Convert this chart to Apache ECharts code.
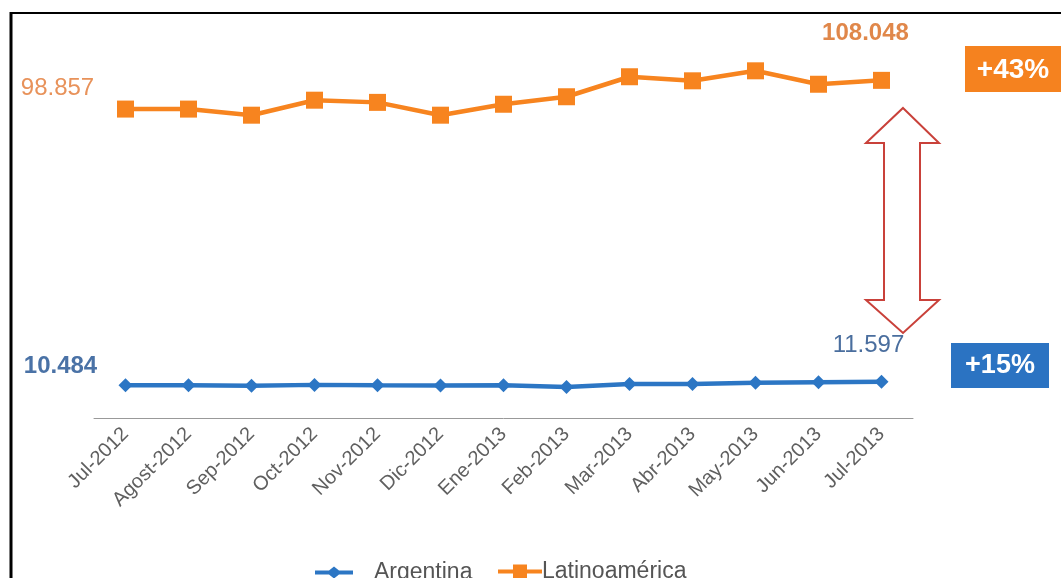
<!DOCTYPE html>
<html>
<head>
<meta charset="utf-8">
<script src="https://cdn.jsdelivr.net/npm/echarts@6/dist/echarts.min.js"></script>
<style>
  html, body { margin: 0; padding: 0; background: #fff; }
  #chart { width: 1061px; height: 578px; }
</style>
</head>
<body>
<div id="chart"></div>
<script>
const months = ['Jul-2012', 'Agost-2012', 'Sep-2012', 'Oct-2012', 'Nov-2012', 'Dic-2012', 'Ene-2013',
  'Feb-2013', 'Mar-2013', 'Abr-2013', 'May-2013', 'Jun-2013', 'Jul-2013']
const argentina = [10.484, 10.45, 10.3, 10.6, 10.45, 10.4, 10.45, 9.9, 10.9, 10.9, 11.3, 11.45, 11.597]
const latam = [98.857, 98.85, 96.9, 101.7, 101.0, 96.9, 100.4, 102.8, 109.2, 107.9, 111.1, 106.8, 108.048]
const badges = ['+43%', '+15%']

const orange = '#F7841F'
const blue = '#2C76C4'

// only first and last points get a value label
function withEndLabels(values, first, last) {
  return values.map((v, i) => {
    if (i === 0) return { value: v, label: Object.assign({ show: true }, first) }
    if (i === values.length - 1) return { value: v, label: Object.assign({ show: true }, last) }
    return v
  })
}

const labelBase = { fontFamily: 'Liberation Sans, Arial', fontSize: 24, position: 'inside' }
const legendText = { color: '#555', fontSize: 23, fontFamily: 'Liberation Sans, Arial' }

const chart = echarts.init(document.getElementById('chart'))
const option = {
  animation: false,
  grid: { left: 94, right: 148, top: 43, bottom: 160 },
  legend: [
    {
      data: [{ name: 'Argentina', icon: 'path://M0,4 L14,4 L19,0 L24,4 L38,4 L38,8 L24,8 L19,12 L14,8 L0,8 Z' }],
      left: 310, top: 556, itemWidth: 38, itemHeight: 12,
      textStyle: Object.assign({ padding: [0, 0, 0, 16] }, legendText)
    },
    {
      data: [{ name: 'Latinoamérica', icon: 'path://M0,5 L15,5 L15,0 L29,0 L29,5 L44,5 L44,9 L29,9 L29,14 L15,14 L15,9 L0,9 Z' }],
      left: 493, top: 555, itemWidth: 44, itemHeight: 14,
      textStyle: Object.assign({ padding: [0, 0, 0, -5] }, legendText)
    }
  ],
  xAxis: {
    type: 'category',
    data: months,
    axisLine: { lineStyle: { color: '#999', width: 1 } },
    axisTick: { show: false },
    axisLabel: { rotate: 45, color: '#5f5f5f', fontSize: 20, fontFamily: 'Liberation Sans, Arial', margin: 13 }
  },
  yAxis: { type: 'value', min: 0, max: 120, show: false, splitLine: { show: false } },
  series: [
    {
      name: 'Argentina', type: 'line', color: blue,
      symbol: 'diamond', symbolSize: 14, lineStyle: { width: 4.5 },
      data: withEndLabels(argentina,
        Object.assign({}, labelBase, { color: '#4A72A6', fontWeight: 'bold', offset: [-65, -19], formatter: '10.484' }),
        Object.assign({}, labelBase, { color: '#4A6E9E', offset: [-13, -36], formatter: '11.597' }))
    },
    {
      name: 'Latinoamérica', type: 'line', color: orange,
      symbol: 'rect', symbolSize: 17, lineStyle: { width: 4.5 },
      data: withEndLabels(latam,
        Object.assign({}, labelBase, { color: '#E8925A', offset: [-68, -21], formatter: '98.857' }),
        Object.assign({}, labelBase, { color: '#E0874A', fontWeight: 'bold', offset: [-16, -47], formatter: '108.048' }))
    }
  ],
  graphic: [
    // frame
    { type: 'line', shape: { x1: 10, y1: 13, x2: 1061, y2: 13 }, style: { stroke: '#000', lineWidth: 2 } },
    { type: 'line', shape: { x1: 11, y1: 12, x2: 11, y2: 578 }, style: { stroke: '#000', lineWidth: 3 } },
    // double arrow
    {
      type: 'polygon',
      shape: { points: [[903, 108], [939, 143], [920, 143], [920, 300], [939, 300], [903, 333],
        [866, 300], [884, 300], [884, 143], [866, 143]] },
      style: { fill: '#fff', stroke: '#C9413A', lineWidth: 2 }
    },
    // badges
    { type: 'rect', shape: { x: 965, y: 46, width: 96, height: 46 }, style: { fill: '#F5821F' } },
    { type: 'text', x: 1013, y: 70, style: { text: badges[0], fill: '#fff', font: 'bold 28px Liberation Sans, Arial', align: 'center', verticalAlign: 'middle' } },
    { type: 'rect', shape: { x: 951, y: 343, width: 98, height: 45 }, style: { fill: '#2B73C2' } },
    { type: 'text', x: 1000, y: 366, style: { text: badges[1], fill: '#fff', font: 'bold 27px Liberation Sans, Arial', align: 'center', verticalAlign: 'middle' } }
  ]
}
chart.setOption(option)
</script>
</body>
</html>
